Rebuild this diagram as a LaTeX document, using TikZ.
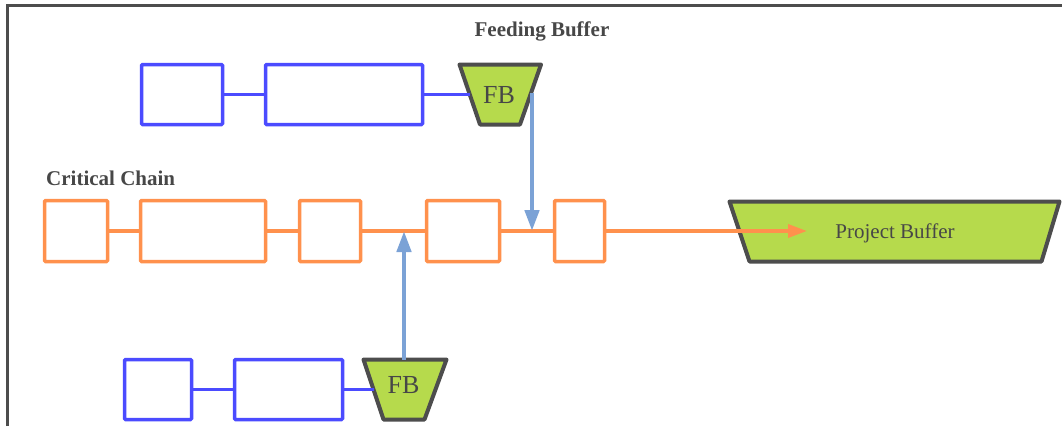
\documentclass[tikz,border=0pt]{standalone}
\usepackage{fontspec}
\setmainfont{Liberation Serif}
\usetikzlibrary{arrows.meta,calc}
\definecolor{taskblue}{HTML}{4B4BFF}
\definecolor{chainorange}{HTML}{FF914D}
\definecolor{bufgreen}{HTML}{B6DA4C}
\definecolor{edgegray}{HTML}{4D4D4D}
\definecolor{feedblue}{HTML}{7BA2D6}
\definecolor{txtgray}{HTML}{474747}

\begin{document}
\begin{tikzpicture}[x=1pt,y=-1pt,
  feedtask/.style={draw=taskblue, line width=3.5pt, rounded corners=1pt,
    minimum height=60pt, inner sep=0pt, outer sep=0pt},
  chaintask/.style={draw=chainorange, line width=3.5pt, rounded corners=1pt,
    minimum height=61pt, inner sep=0pt, outer sep=0pt},
  feedlink/.style={draw=taskblue, line width=3.5pt},
  chainlink/.style={draw=chainorange, line width=3.5pt},
  chainarrow/.style={draw=chainorange, line width=3.5pt,
    -{Triangle[width=13pt,length=19pt]}},
  feedarrow/.style={draw=feedblue, line width=4.5pt,
    -{Triangle[width=14pt,length=21pt]}},
  buffer/.style={draw=edgegray, fill=bufgreen, line width=4pt, line join=round},
  buftext/.style={text=txtgray, inner sep=0pt, anchor=base},
  label/.style={text=txtgray, inner sep=0pt, font=\bfseries\fontsize{21}{24}\selectfont},
  frame/.style={draw=edgegray, line width=3pt}
]
\useasboundingbox (0,0) rectangle (1062,426);

% outer frame (top and left edges)
\draw[frame] (7.5,426) -- (7.5,5.5) -- (1062,5.5);

% titles
\node[label, anchor=base] (fbtitle) at (542,36) {Feeding Buffer};
\node[label, anchor=base west] (cctitle) at (46,185) {Critical Chain};

% upper feeding chain
\node[feedtask, minimum width=81pt]  (a1) at (182,94.5) {};
\node[feedtask, minimum width=157pt] (a2) at (344,94.5) {};
\draw[buffer] (459.5,64.5) -- (541,64.5) -- (520,124.5) -- (480,124.5) -- cycle;
\node[buftext, font=\fontsize{26}{30}\selectfont] (fb1) at (499,103) {FB};
\coordinate (fb1in)  at (469.5,94.5);
\coordinate (fb1out) at (532,93);

% critical chain
\node[chaintask, minimum width=63pt]  (c1) at (76,231) {};
\node[chaintask, minimum width=125pt] (c2) at (203,231) {};
\node[chaintask, minimum width=61pt]  (c3) at (330,231) {};
\node[chaintask, minimum width=73pt]  (c4) at (463,231) {};
\node[chaintask, minimum width=50pt]  (c5) at (579.5,231) {};

% project buffer
\draw[buffer] (729.5,201.5) -- (1059.5,201.5) -- (1041.5,261.5) -- (749.5,261.5) -- cycle;
\node[buftext, font=\fontsize{21}{24}\selectfont] (pb) at (895,238) {Project Buffer};
\coordinate (pbtip) at (807,231);

% lower feeding chain
\node[feedtask, minimum width=67pt]  (b1) at (158,389.5) {};
\node[feedtask, minimum width=108pt] (b2) at (288.5,389.5) {};
\draw[buffer] (363.5,359.5) -- (446.5,359.5) -- (424.5,419.5) -- (383.5,419.5) -- cycle;
\node[buftext, font=\fontsize{26}{30}\selectfont] (fb2) at (403.5,393) {FB};
\coordinate (fb2in)  at (373.5,389.5);
\coordinate (fb2top) at (404,359.5);

% links
\draw[feedlink] (a1) -- (a2);
\draw[feedlink] (a2) -- (fb1in);
\draw[feedlink] (b1) -- (b2);
\draw[feedlink] (b2) -- (fb2in);
\draw[chainlink] (c1) -- (c2);
\draw[chainlink] (c2) -- (c3);
\draw[chainlink] (c3) -- (c4);
\draw[chainlink] (c4) -- (c5);
\draw[chainarrow] (c5) -- (pbtip);

% feeding buffers merging into the critical chain
\draw[feedarrow] (fb1out) -- (fb1out |- c5.west);
\draw[feedarrow] (fb2top) -- (fb2top |- c3.east);
\end{tikzpicture}
\end{document}
